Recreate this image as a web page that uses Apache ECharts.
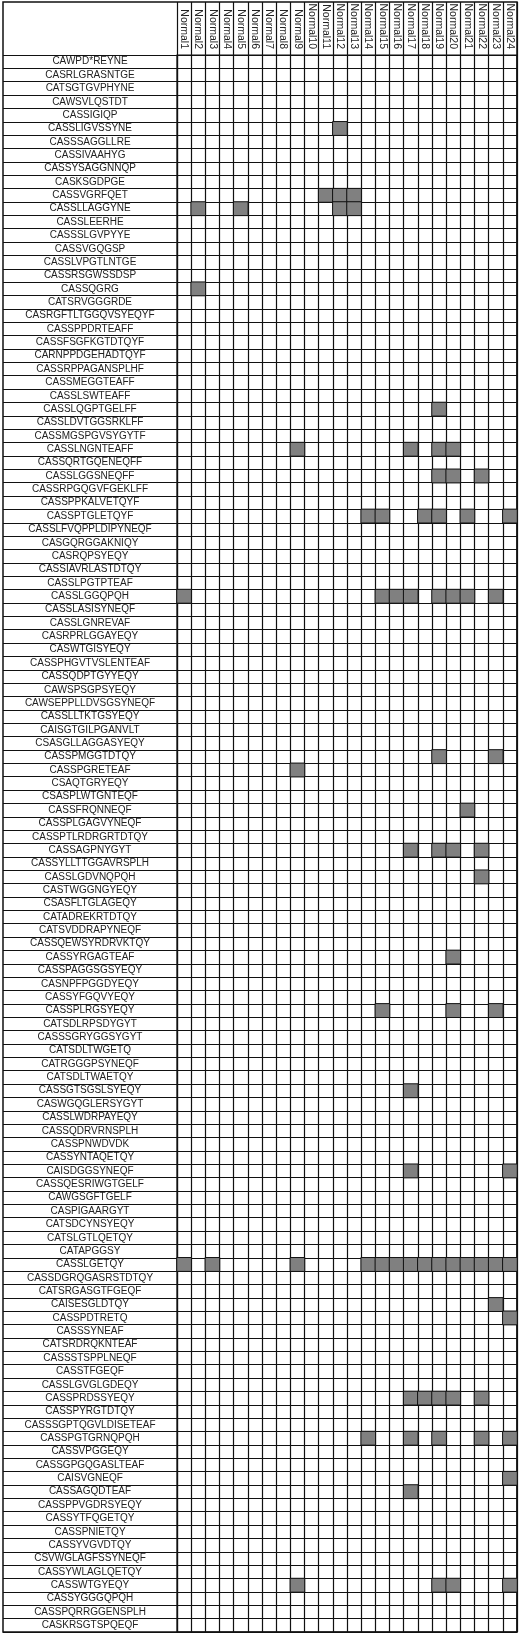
<!DOCTYPE html>
<html>
<head>
<meta charset="utf-8">
<script src="https://cdn.jsdelivr.net/npm/echarts@6/dist/echarts.min.js"></script>
<style>html,body{margin:0;padding:0;background:#fff}#main{width:520px;height:1636px}</style>
</head>
<body>
<div id="main"></div>
<script>
// 样本（列）
var samples = [];
for (var i = 1; i <= 24; i++) samples.push('Normal' + i);

// 克隆型（行）
var clones = [
  'CAWPD*REYNE','CASRLGRASNTGE','CATSGTGVPHYNE','CAWSVLQSTDT','CASSIGIQP','CASSLIGVSSYNE',
  'CASSSAGGLLRE','CASSIVAAHYG','CASSYSAGGNNQP','CASKSGDPGE','CASSVGRFQET','CASSLLAGGYNE',
  'CASSLEERHE','CASSSLGVPYYE','CASSVGQGSP','CASSLVPGTLNTGE','CASSRSGWSSDSP','CASSQGRG',
  'CATSRVGGGRDE','CASRGFTLTGGQVSYEQYF','CASSPPDRTEAFF','CASSFSGFKGTDTQYF','CARNPPDGEHADTQYF',
  'CASSRPPAGANSPLHF','CASSMEGGTEAFF','CASSLSWTEAFF','CASSLQGPTGELFF','CASSLDVTGGSRKLFF',
  'CASSMGSPGVSYGYTF','CASSLNGNTEAFF','CASSQRTGQENEQFF','CASSLGGSNEQFF','CASSRPGQGVFGEKLFF',
  'CASSPPKALVETQYF','CASSPTGLETQYF','CASSLFVQPPLDIPYNEQF','CASGQRGGAKNIQY','CASRQPSYEQY',
  'CASSIAVRLASTDTQY','CASSLPGTPTEAF','CASSLGGQPQH','CASSLASISYNEQF','CASSLGNREVAF',
  'CASRPRLGGAYEQY','CASWTGISYEQY','CASSPHGVTVSLENTEAF','CASSQDPTGYYEQY','CAWSPSGPSYEQY',
  'CAWSEPPLLDVSGSYNEQF','CASSLLTKTGSYEQY','CAISGTGILPGANVLT','CSASGLLAGGASYEQY','CASSPMGGTDTQY',
  'CASSPGRETEAF','CSAQTGRYEQY','CSASPLWTGNTEQF','CASSFRQNNEQF','CASSPLGAGVYNEQF',
  'CASSPTLRDRGRTDTQY','CASSAGPNYGYT','CASSYLLTTGGAVRSPLH','CASSLGDVNQPQH','CASTWGGNGYEQY',
  'CSASFLTGLAGEQY','CATADREKRTDTQY','CATSVDDRAPYNEQF','CASSQEWSYRDRVKTQY','CASSYRGAGTEAF',
  'CASSPAGGSGSYEQY','CASNPFPGGDYEQY','CASSYFGQVYEQY','CASSPLRGSYEQY','CATSDLRPSDYGYT',
  'CASSSGRYGGSYGYT','CATSDLTWGETQ','CATRGGGPSYNEQF','CATSDLTWAETQY','CASSGTSGSLSYEQY',
  'CASWGQGLERSYGYT','CASSLWDRPAYEQY','CASSQDRVRNSPLH','CASSPNWDVDK','CASSYNTAQETQY',
  'CAISDGGSYNEQF','CASSQESRIWGTGELF','CAWGSGFTGELF','CASPIGAARGYT','CATSDCYNSYEQY',
  'CATSLGTLQETQY','CATAPGGSY','CASSLGETQY','CASSDGRQGASRSTDTQY','CATSRGASGTFGEQF',
  'CAISESGLDTQY','CASSPDTRETQ','CASSSYNEAF','CATSRDRQKNTEAF','CASSSTSPPLNEQF','CASSTFGEQF',
  'CASSLGVGLGDEQY','CASSPRDSSYEQY','CASSPYRGTDTQY','CASSSGPTQGVLDISETEAF','CASSPGTGRNQPQH',
  'CASSVPGGEQY','CASSGPGQGASLTEAF','CAISVGNEQF','CASSAGQDTEAF','CASSPPVGDRSYEQY',
  'CASSYTFQGETQY','CASSPNIETQY','CASSYVGVDTQY','CSVWGLAGFSSYNEQF','CASSYWLAGLQETQY',
  'CASSWTGYEQY','CASSYGGGQPQH','CASSPQRRGGENSPLH','CASKRSGTSPQEQF'
];

// 出现的样本编号（1 起）
var hits = {
  'CASSLIGVSSYNE': [12],
  'CASSVGRFQET': [11, 12, 13],
  'CASSLLAGGYNE': [2, 5, 12, 13],
  'CASSQGRG': [2],
  'CASSLQGPTGELFF': [19],
  'CASSLNGNTEAFF': [9, 17, 19, 20],
  'CASSLGGSNEQFF': [19, 20, 22],
  'CASSPTGLETQYF': [14, 15, 18, 19, 21, 24],
  'CASSLGGQPQH': [1, 15, 16, 17, 19, 20, 21, 23],
  'CASSPMGGTDTQY': [19, 23],
  'CASSPGRETEAF': [9],
  'CASSFRQNNEQF': [21],
  'CASSAGPNYGYT': [17, 19, 20, 22],
  'CASSLGDVNQPQH': [22],
  'CASSYRGAGTEAF': [20],
  'CASSPLRGSYEQY': [15, 20, 23],
  'CASSGTSGSLSYEQY': [17],
  'CAISDGGSYNEQF': [17, 24],
  'CASSLGETQY': [1, 3, 9, 14, 15, 16, 17, 18, 19, 20, 21, 22, 23, 24],
  'CAISESGLDTQY': [23],
  'CASSPDTRETQ': [24],
  'CASSPRDSSYEQY': [17, 18, 19, 20, 22],
  'CASSPGTGRNQPQH': [14, 17, 19, 22, 24],
  'CAISVGNEQF': [24],
  'CASSAGQDTEAF': [17],
  'CASSWTGYEQY': [9, 19, 20, 24]
};

var data = [];
clones.forEach(function (c, r) {
  (hits[c] || []).forEach(function (n) { data.push([n - 1, r, 1]); });
});

var font = '"Liberation Sans Narrow", "Liberation Sans", sans-serif';
var line = { color: '#111', width: 1.2 };
var chart = echarts.init(document.getElementById('main'));
chart.setOption({
  animation: false,
  grid: { left: 177, right: 3, top: 55, bottom: 4, show: true, borderColor: '#111', borderWidth: 1.2 },
  xAxis: {
    type: 'category', data: samples, position: 'top',
    axisLine: { lineStyle: line },
    axisTick: { show: true, length: 53, lineStyle: line },
    splitLine: { show: true, interval: 0, lineStyle: line },
    axisLabel: { interval: 0, rotate: 90, margin: 6, fontSize: 10.5, color: '#222', fontFamily: font }
  },
  yAxis: {
    type: 'category', data: clones, inverse: true,
    axisLine: { lineStyle: line },
    axisTick: { show: true, length: 174, interval: 0, lineStyle: line },
    splitLine: { show: true, interval: 0, lineStyle: line },
    axisLabel: { interval: 0, margin: 87, align: 'center', fontSize: 10, color: '#222', fontFamily: font }
  },
  visualMap: { show: false, min: 0, max: 1, inRange: { color: ['#808080', '#808080'] } },
  series: [{
    type: 'heatmap', data: data,
    itemStyle: { color: '#808080', borderColor: '#111', borderWidth: 1 }
  }],
  graphic: [{
    type: 'rect', silent: true,
    shape: { x: 3, y: 2, width: 514, height: 1630 },
    style: { fill: 'none', stroke: '#111', lineWidth: 1.5 }
  }]
});
</script>
</body>
</html>
